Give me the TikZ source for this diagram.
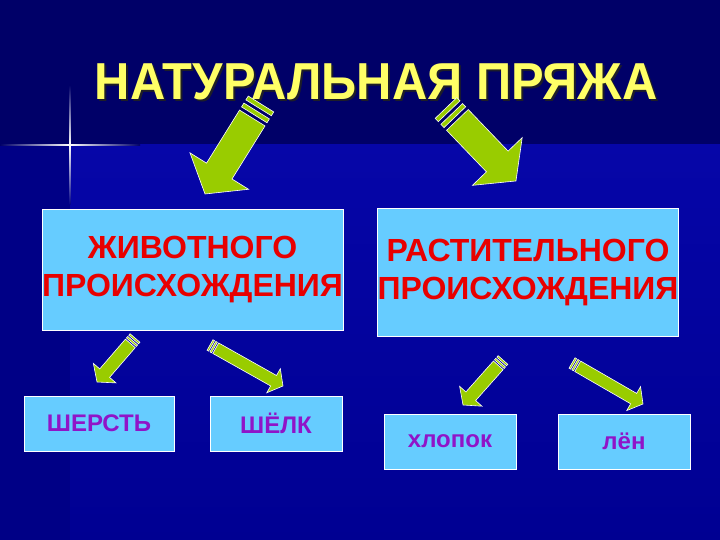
\documentclass[tikz,border=0pt]{standalone}
\usepackage{fontspec}
\setmainfont{Liberation Sans}
\usetikzlibrary{calc}
\definecolor{navytop}{RGB}{0,0,104}
\definecolor{navyleft}{RGB}{0,0,134}
\definecolor{bluemid}{RGB}{6,6,168}
\definecolor{bluelow}{RGB}{0,0,146}
\definecolor{skybox}{RGB}{102,204,255}
\definecolor{yarngreen}{RGB}{153,204,0}
\definecolor{titleyellow}{RGB}{255,255,102}
\definecolor{titleshade}{RGB}{30,30,40}
\definecolor{boxred}{RGB}{232,0,0}
\definecolor{boxpurple}{RGB}{144,20,200}
\tikzset{
	bigbox/.style = {fill = skybox, draw = white, line width = 1pt, minimum width = 301pt, inner sep = 0pt, align = center, text = boxred, font = \bfseries\fontsize{32}{38}\selectfont},
	smallbox/.style = {fill = skybox, draw = white, line width = 1pt, minimum width = 132pt, minimum height = 55pt, inner sep = 0pt, text = boxpurple, font = \bfseries\fontsize{24}{28}\selectfont},
	yarnfill/.style = {fill = yarngreen, draw = white, line width = 0.6pt}
}
% green block arrow with two bands at the tail: tail, tip, half width
\newcommand\yarnarrow[3]{%
	\path let \p1 = (#1), \p2 = (#2), \n1 = {atan2(\y2 - \y1, \x2 - \x1)}, \n2 = {veclen(\x2 - \x1, \y2 - \y1)} in \pgfextra{\xdef\yarnang{\n1}\xdef\yarnlen{\n2}};
	\begin{scope}[shift = {(#1)}, rotate = \yarnang, x = 1pt, y = 1pt]
		\filldraw[yarnfill] (0, -#3) rectangle (0.3*#3, #3);
		\filldraw[yarnfill] (0.55*#3, -#3) rectangle (0.85*#3, #3);
		\filldraw[yarnfill] (1.1*#3, -#3) -- (\yarnlen - 1.8*#3, -#3) -- (\yarnlen - 1.8*#3, -2.3*#3) -- (\yarnlen, 0) -- (\yarnlen - 1.8*#3, 2.3*#3) -- (\yarnlen - 1.8*#3, #3) -- (1.1*#3, #3) -- cycle;
	\end{scope}}
\begin{document}
\begin{tikzpicture}[x = 1pt, y = -1pt]
		\useasboundingbox (0, 0) rectangle (720, 540);
		\fill[navytop] (0, 0) rectangle (720, 540);
		\fill[navyleft] (0, 145) rectangle (70, 540);
		\shade[top color = bluemid, bottom color = bluelow] (70, 145) rectangle (720, 540);
		% sparkle
		\shade[left color = navytop, right color = navytop, middle color = white] (0, 144.3) rectangle (140, 145.7);
		\shade[top color = navytop, bottom color = navyleft, middle color = white] (69.3, 85) rectangle (70.7, 205);
		%%%%%%%%%
		\node[font = \bfseries\fontsize{52}{60}\selectfont, text = titleshade, xscale = 0.94, anchor = base] (titleshadow) at (378, 102) {НАТУРАЛЬНАЯ ПРЯЖА};
		\node[font = \bfseries\fontsize{52}{60}\selectfont, text = titleyellow, xscale = 0.94, anchor = base] (title) at (376, 100) {НАТУРАЛЬНАЯ ПРЯЖА};
		%%%%%%%%%
		\node[bigbox, minimum height = 120pt] (animal) at (192.5, 270) {\raisebox{-4pt}{ЖИВОТНОГО}\\\raisebox{-4pt}{ПРОИСХОЖДЕНИЯ}};
		\node[bigbox, minimum height = 127pt] (plant) at (528, 272.5) {\raisebox{-4pt}{РАСТИТЕЛЬНОГО}\\\raisebox{-4pt}{ПРОИСХОЖДЕНИЯ}};
		\node[smallbox, minimum width = 150pt] (wool) at (99, 423.5) {ШЕРСТЬ};
		\node[smallbox] (silk) at (276, 423.5) {ШЁЛК};
		\node[smallbox] (cotton) at (450, 441.5) {хлопок};
		\node[smallbox] (flax) at (624, 441.5) {лён};
		%%%%%%%%%
		\coordinate (animaltail) at (261, 104);
		\coordinate (animaltip) at (205, 194);
		\coordinate (planttail) at (446, 108);
		\coordinate (planttip) at (516, 181);
		\coordinate (wooltail) at (135, 338);
		\coordinate (wooltip) at (97, 382);
		\coordinate (silktail) at (210, 345);
		\coordinate (silktip) at (283, 386);
		\coordinate (cottontail) at (503, 360);
		\coordinate (cottontip) at (463, 405);
		\coordinate (flaxtail) at (572, 363);
		\coordinate (flaxtip) at (643, 404);
		\yarnarrow{animaltail}{animaltip}{15}
		\yarnarrow{planttail}{planttip}{15}
		\yarnarrow{wooltail}{wooltip}{6.5}
		\yarnarrow{silktail}{silktip}{6}
		\yarnarrow{cottontail}{cottontip}{6.5}
		\yarnarrow{flaxtail}{flaxtip}{6}
	\end{tikzpicture}
\end{document}
